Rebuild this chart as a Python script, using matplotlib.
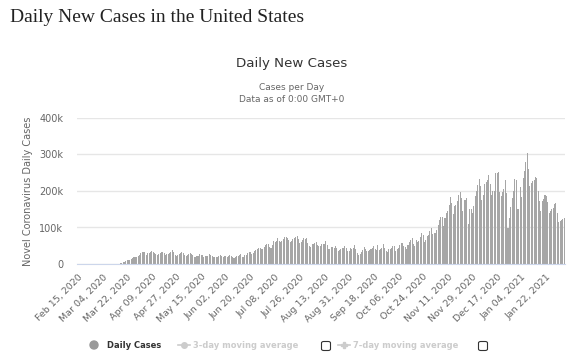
import numpy as np
import pandas as pd
import matplotlib
matplotlib.use("Agg")
from matplotlib import pyplot as plt
from matplotlib.lines import Line2D
from matplotlib.patches import FancyBboxPatch, Ellipse

# daily new cases, Feb 15 2020 .. Feb 04 2021
feb20 = [0, 0, 0, 0, 0, 0, 1, 0, 0, 0, 0, 1, 2, 3, 4]
mar20 = [5, 7, 20, 30, 40, 70, 100, 120, 140, 280, 300, 450, 580, 700, 750, 1000,
         1800, 3000, 5500, 6500, 8500, 10000, 11000, 11500, 13000, 17000, 19000,
         20000, 19500, 22000, 25000]
apr20 = [29000, 32000, 33000, 34000, 25000, 29000, 31000, 33000, 35000, 34000,
         30000, 27000, 25000, 27000, 29000, 32000, 33000, 29000, 25000, 28000,
         27000, 29000, 33000, 37000, 34000, 26000, 23000, 25000, 28000, 30000]
may20 = [32000, 29000, 25000, 23000, 24000, 28000, 29000, 27000, 25000, 20000,
         19000, 22000, 21000, 27000, 26000, 24000, 20000, 22000, 21000, 22000,
         27000, 24000, 22000, 20000, 18000, 19000, 20000, 21000, 25000, 23000, 20000]
jun20 = [21000, 22000, 20000, 21000, 24000, 23000, 18000, 17000, 19000, 21000,
         23000, 25000, 27000, 20000, 19000, 24000, 26000, 29000, 33000, 32000,
         28000, 31000, 36000, 39000, 40000, 45000, 44000, 42000, 42000, 47000]
jul20 = [51000, 56000, 55000, 46000, 45000, 52000, 62000, 60000, 64000, 70000,
         62000, 60000, 62000, 68000, 73000, 75000, 72000, 66000, 61000, 64000,
         68000, 72000, 74000, 76000, 69000, 57000, 59000, 65000, 71000, 69000, 70000]
aug20 = [57000, 48000, 47000, 54000, 54000, 58000, 60000, 52000, 48000, 50000,
         55000, 55000, 56000, 64000, 53000, 42000, 40000, 46000, 47000, 45000,
         48000, 43000, 36000, 37000, 40000, 45000, 44000, 49000, 43000, 35000, 36000]
sep20 = [43000, 41000, 45000, 52000, 41000, 31000, 25000, 27000, 34000, 37000,
         47000, 41000, 35000, 35000, 39000, 40000, 44000, 49000, 42000, 37000,
         52000, 38000, 40000, 45000, 56000, 45000, 36000, 33000, 42000, 40000]
oct20 = [44000, 50000, 49000, 36000, 41000, 43000, 51000, 57000, 58000, 49000,
         46000, 42000, 52000, 60000, 65000, 70000, 54000, 48000, 66000, 61000,
         64000, 73000, 84000, 80000, 60000, 67000, 76000, 79000, 90000, 99000, 83000]
nov20 = [84000, 85000, 94000, 108000, 121000, 130000, 128000, 105000, 125000, 140000,
         145000, 163000, 184000, 167000, 138000, 160000, 162000, 172000, 188000, 198000,
         180000, 145000, 175000, 175000, 182000, 110000, 150000, 152000, 140000, 160000]
dec20 = [186000, 200000, 217000, 232000, 215000, 176000, 190000, 220000, 225000, 230000,
         245000, 220000, 190000, 200000, 200000, 248000, 248000, 251000, 197000, 187000,
         197000, 205000, 229000, 195000, 98000, 126000, 155000, 180000, 200000, 233000, 230000]
jan21 = [150000, 150000, 211000, 184000, 235000, 254000, 279000, 304000, 260000, 213000,
         223000, 227000, 229000, 239000, 236000, 201000, 172000, 145000, 172000, 178000,
         190000, 187000, 171000, 140000, 145000, 150000, 154000, 165000, 168000, 139000, 115000]
feb21 = [117000, 121000, 122000, 125000]

cases = feb20 + mar20 + apr20 + may20 + jun20 + jul20 + aug20 + sep20 + oct20 + nov20 + dec20 + jan21 + feb21
dates = pd.date_range("2020-02-15", periods=len(cases), freq="D")

W, H = 577, 363
fig = plt.figure(figsize=(W / 100, H / 100), dpi=100)
ax = fig.add_axes([77 / W, (H - 264) / H, (565 - 77) / W, (264 - 118) / H])

x = np.arange(len(cases))
ax.bar(x, cases, width=0.75, color="#a6a6a6", linewidth=0)

ax.set_xlim(-0.6, len(cases) - 0.4)
ax.set_ylim(0, 400000)
ax.set_yticks([0, 100000, 200000, 300000, 400000])
ax.set_yticklabels(["0", "100k", "200k", "300k", "400k"])
ax.yaxis.grid(True, color="#e6e6e6", linewidth=1)
ax.set_axisbelow(True)
for s in ["top", "right", "left"]:
    ax.spines[s].set_visible(False)
ax.spines["bottom"].set_color("#ccd6eb")

tick_idx = x[::18]
ax.set_xticks(tick_idx)
ax.set_xticklabels([dates[i].strftime("%b %d, %Y") for i in tick_idx],
                   rotation=45, ha="right", rotation_mode="anchor")
ax.tick_params(axis="x", length=0, pad=6, labelsize=6.8, labelcolor="#666666")
ax.tick_params(axis="y", length=0, pad=10, labelsize=7, labelcolor="#666666")
ax.set_ylabel("Novel Coronavirus Daily Cases", fontsize=7, color="#666666", labelpad=4)

fig.text(10 / W, 1 - 17 / H, "Daily New Cases in the United States", family="Liberation Serif",
         fontsize=14, color="#222222", va="center", ha="left")
fig.text(292 / W, 1 - 63 / H, "Daily New Cases", fontsize=9.6, color="#333333", ha="center", va="center")
fig.text(292 / W, 1 - 88 / H, "Cases per Day", fontsize=6.5, color="#666666", ha="center", va="center")
fig.text(292 / W, 1 - 100 / H, "Data as of 0:00 GMT+0", fontsize=6.5, color="#666666", ha="center", va="center")

# legend
ly = 1 - 345 / H
fig.add_artist(Ellipse((94 / W, ly), 8 / W, 8 / H, color="#999999"))
fig.text(107 / W, ly, "Daily Cases", fontsize=6, fontweight="bold", color="#333333", va="center")
fig.add_artist(Line2D([178 / W, 190 / W], [ly, ly], color="#cccccc", linewidth=1.2))
fig.add_artist(Line2D([184 / W], [ly], color="#cccccc", marker="o", markersize=4))
fig.text(193 / W, ly, "3-day moving average", fontsize=6, fontweight="bold", color="#cccccc", va="center")
fig.add_artist(Line2D([338 / W, 350 / W], [ly, ly], color="#cccccc", linewidth=1.2))
fig.add_artist(Line2D([344 / W], [ly], color="#cccccc", marker="P", markersize=4))
fig.text(353 / W, ly, "7-day moving average", fontsize=6, fontweight="bold", color="#cccccc", va="center")
for cx in [326, 483]:
    fig.add_artist(FancyBboxPatch(((cx - 4.5) / W, ly - 5.5 / H), 9 / W, 9 / H,
                                  boxstyle="round,pad=0,rounding_size=0.004",
                                  facecolor="white", edgecolor="#333333", linewidth=0.8))

fig.savefig("out.png", dpi=100)
